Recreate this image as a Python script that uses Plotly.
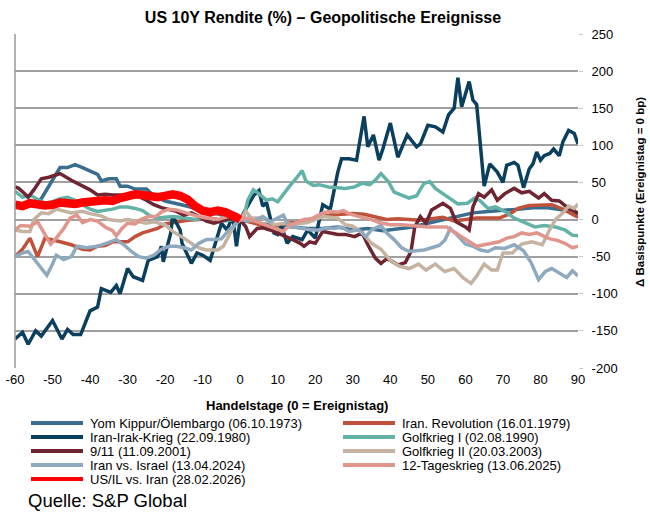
import plotly.graph_objects as go

# ---------------- data ----------------
TITLE = "US 10Y Rendite (%) – Geopolitische Ereignisse"
X_TITLE = "Handelstage (0 = Ereignistag)"
Y_TITLE = "Δ Basispunkte (Ereignistag = 0 bp)"
SOURCE = "Quelle: S&P Global"
X_TICKS = [-60, -50, -40, -30, -20, -10, 0, 10, 20, 30, 40, 50, 60, 70, 80, 90]
Y_TICKS = [-200, -150, -100, -50, 0, 50, 100, 150, 200, 250]

names = [
    "Yom Kippur/Ölembargo (06.10.1973)",
    "Iran. Revolution (16.01.1979)",
    "Iran-Irak-Krieg (22.09.1980)",
    "Golfkrieg I (02.08.1990)",
    "9/11 (11.09.2001)",
    "Golfkrieg II (20.03.2003)",
    "Iran vs. Israel (13.04.2024)",
    "12-Tageskrieg (13.06.2025)",
    "US/IL vs. Iran (28.02.2026)",
]
colors = ["#3a6e8f", "#c0513a", "#0b3f5e", "#62b2a8", "#6e2531",
          "#c5b3a1", "#8faabf", "#e0968c", "#ff0000"]

yk_days = [-60, -56, -53, -51, -48, -46, -44, -42, -40, -38, -37, -35, -33, -32, -30, -28, -25, -23, -20, -17, -14, -10, -6, -3, 0,
           3, 6, 10, 14, 18, 22, 26, 30, 34, 38, 40, 42, 46, 50, 54, 58, 62, 66, 70, 74, 78, 82, 86, 90]
yk_vals = [20, 22, 28, 45, 70, 70, 74, 70, 66, 61, 52, 55, 55, 45, 45, 41, 41, 32, 25, 22, 18, 12, 8, 4, 0,
           -3, -6, -8, -10, -12, -12, -10, -14, -12, -15, -14, -13, -10, -5, 0, 5, 9, 11, 12, 14, 16, 16, 13, 8]

ir_days = [-60, -58, -56, -54, -52, -50, -48, -45, -42, -40, -38, -36, -34, -30, -28, -26, -24, -22, -20, -17, -14, -11, -8, -5, -2, 0,
           3, 6, 9, 12, 15, 18, 21, 24, 27, 30, 33, 36, 39, 42, 45, 48, 51, 54, 57, 60, 63, 66, 69, 72, 74, 77, 80, 83, 86, 88, 90]
ir_vals = [-50, -40, -25, -50, -25, -28, -30, -34, -40, -41, -36, -35, -30, -30, -23, -18, -15, -12, -6, -3, -1, 0, 2, -1, 1, 0,
           -4, -8, -10, -5, -4, 0, 3, 6, 7, 8, 7, 3, 0, 1, 0, -1, 1, 3, -2, 0, 2, 2, 2, 8, 15, 19, 20, 20, 14, 8, 3]

ii_days = [-60, -58, -56.5, -54.5, -53, -50, -47.5, -46, -44.5, -42.5, -40, -38, -37, -34.5, -33, -32, -30, -28.5, -26, -24.5,
           -22, -21, -20.5, -18.5, -18, -16, -15.5, -13, -11.5, -10, -8, -6, -5, -3.5, -2, -1, 0,
           1.5, 3.5, 5, 6, 7, 9, 10, 11, 12.5, 14, 16.5, 18, 20, 22, 24, 26, 27, 29, 31, 33, 34, 35.5, 37, 38, 40, 42,
           44.5, 47, 48, 50, 52, 54, 55.5, 57, 58, 59, 61, 62, 63, 65, 66.5, 68.5, 70, 71, 73, 74, 75.5, 77, 78, 79, 80,
           81, 82.5, 83.5, 85, 86, 87.5, 89, 90]
ii_vals = [-161, -152, -168, -150, -157, -136, -161, -148, -155, -155, -123, -118, -93, -98, -89, -100, -66, -77, -82, -55,
           -50, -36, -57, -18, 5, -14, -32, -59, -45, -48, -55, -23, -5, -14, 5, -36, 0,
           14, 32, 39, 18, 23, -18, -20, -9, -32, -23, -27, -14, -25, 20, 14, 64, 82, 82, 80, 139, 98, 114, 80, 95, 130, 84,
           114, 98, 102, 127, 125, 118, 141, 150, 191, 152, 186, 161, 155, 45, 75, 64, 50, 73, 77, 73, 43, 68, 75, 91, 80,
           86, 89, 95, 86, 105, 120, 116, 102]

g1_days = [-60, -58, -56, -54, -52, -50, -48, -46, -44, -42, -40, -38, -36, -34, -32, -30, -28, -26, -24, -22, -20, -18, -16, -14, -12,
           -10, -8, -6, -4, -2, 0, 1, 2, 3.5, 5, 7, 8.5, 10, 11.5, 13, 15, 16.5, 17.5, 19.5, 21, 23.5, 26, 28, 30.5, 32.5, 34.5,
           36, 37.5, 39.5, 41, 43, 45, 47, 49, 50.5, 52, 54, 56, 58, 60.5, 62.5, 64, 66, 68, 70.5, 73, 76, 78.5, 81, 84, 86.5,
           88.5, 90]
g1_vals = [38, 30, 33, 28, 22, 24, 28, 30, 26, 20, 14, 11, 12, 14, 17, 17, 15, 12, 5, 2, 3, 4, 3, 2, 0,
           2, 1, 0, -2, 0, 0, 4, 26, 40, 35, 26, 28, 24, 35, 44, 56, 66, 52, 46, 47, 44, 43, 42, 44, 49, 47,
           53, 62, 51, 37, 33, 29, 32, 49, 51, 42, 35, 28, 21, 22, 29, 25, 15, 17, 11, 2, -5, -10, -8, -10, -14,
           -21, -22]

s11_days = [-60, -59, -57.5, -56.5, -55, -53, -51, -48, -45, -42.5, -40, -38, -36, -34, -32, -30, -27, -25, -23, -21, -19, -17,
            -15, -13, -11, -9, -7, -5, -3, -1, 0, 1.5, 2.5, 4.5, 6, 8, 10, 12, 14, 16, 17, 18.5, 20, 22, 24, 26, 28, 30.5,
            32.5, 34, 36, 37.5, 39, 40, 42, 44, 45.5, 46.5, 48, 49.5, 51, 54, 56, 57.5, 60, 61, 62, 63.5, 65, 67, 68.5,
            70.5, 73, 75, 77, 79.5, 81, 83, 85, 87.5, 89, 90]
s11_vals = [44, 42, 35, 30, 40, 55, 57, 62, 53, 46, 40, 33, 34, 33, 33, 31, 31, 26, 20, 16, 13, 11,
            6, 9, 4, -2, -5, -2, 1, 0, 0, -10, -23, -12, -11, -14, -18, -23, -27, -32, -36, -30, -32, -16, -18, -20, -20, -23,
            -18, -34, -52, -59, -53, -55, -61, -58, -43, -10, 4, -5, 13, 22, 15, -3, -10, -14, 17, 35, 30, 40, 26,
            35, 42, 36, 38, 29, 35, 26, 25, 15, 12, 8]

g2_days = [-60, -58, -56, -55, -53, -51, -49, -47, -45, -42, -40, -37, -35, -32, -30, -28, -25, -23, -20, -18, -15, -12.5, -10.5,
           -9, -6, -4.5, -2.7, -1.5, 0, 1.5, 3, 6, 9, 12, 14, 16, 18, 20, 22, 24, 26, 28, 30, 32.5, 35, 37.5, 40, 42.5, 45,
           47.5, 49.5, 52, 54.5, 57, 59.5, 61.5, 63, 65, 67, 68.5, 70, 72.5, 75, 77.7, 80.5, 82.3, 84, 86, 87.5, 89, 90]
g2_vals = [-14, -16, -16, 0, 9, 8, 14, 11, 9, 11, 8, 5, 0, -2, 0, -2, -5, -3, -7, -16, -25, -34, -39,
           -41, -41, -36, -20, -7, 0, 11, 2, 2, -7, -5, -7, -6, -4, 0, 4, 3, 2, -7, -9, -18, -32, -40, -55, -63, -66,
           -60, -68, -60, -70, -66, -79, -86, -76, -60, -68, -68, -45, -45, -33, -30, -34, -15, 0, 9, 18, 15, 21]

ivi_days = [-60, -58, -56.5, -54, -52.5, -51.5, -50, -49, -47, -45, -43.5, -41, -38, -36, -33, -31, -29, -27, -25, -23, -21, -19,
            -17, -15, -13, -11, -9, -7, -5, -3, -1.5, 0, 2, 4, 6, 8, 10, 11.5, 13, 15, 17, 19, 21, 23, 25, 27, 29, 31.5, 33.5,
            35, 37.5, 39, 41, 43, 45, 47, 49, 51, 53, 54.5, 56, 58, 60, 62, 64, 66, 68, 70.5, 73, 75.5, 77.5, 79.5, 81.3, 83,
            85, 87, 88.5, 90]
ivi_vals = [-50, -45, -43, -59, -68, -75, -60, -48, -54, -50, -36, -38, -36, -32, -27, -34, -43, -50, -52, -48, -40, -36,
            -36, -38, -41, -32, -27, -27, -26, -14, -8, 0, -2, -1, 4, -3, 2, 6, -9, -11, -12, -14, -14, -11, -12, -10, -16, -14, -23,
            -14, -8, -18, -27, -38, -43, -42, -41, -38, -35, -28, -12, -22, -33, -36, -41, -43, -38, -39, -34, -42, -58, -81, -70, -66,
            -72, -78, -69, -76]

t12_days = [-60, -58.5, -56, -54, -52.5, -50.5, -49, -47, -45.3, -43.5, -42, -40, -38, -36, -34, -33, -31.5, -30, -28, -26.5,
            -24.5, -22.5, -21, -19, -17, -15, -13, -11, -9, -6, -4, -2, 0, 2, 4, 6, 8, 10, 11.5, 13, 15, 17, 19, 21, 22, 24,
            26, 27.5, 29, 31, 33, 35, 37, 40, 43, 45, 47, 50, 52.5, 55, 56, 57.5, 59.5, 61.3, 63, 65, 67, 69, 71, 73, 75, 77,
            79, 80.5, 82.5, 84.5, 86.5, 88.5, 90]
t12_vals = [-14, -8, -9, -3, -16, -33, -25, -12, 2, 6, -4, 0, -2, -10, -15, -22, -12, -5, -6, 0,
            4, 4, 10, 14, 13, 10, 6, 4, 2, 0, 3, 5, 0, 2, -2, -6, -10, -14, -16, -8, -4, 0, 1, 6, 9, 11,
            10, 12, 8, 5, 3, 0, -4, -7, -7, -8, -8, -10, -10, -10, -14, -18, -25, -30, -36, -34, -32, -30, -25, -23, -18, -20,
            -18, -22, -26, -28, -32, -38, -36]

us_days = [-60, -58, -56, -54, -52, -50, -48, -46, -44, -42, -40, -38, -36, -34, -32, -30, -28, -26, -24, -22, -20, -18, -16,
           -14, -12, -10, -8, -6, -4, -2, -1, 0]
us_vals = [20, 18, 22, 20, 19, 20, 23, 22, 21, 23, 25, 25, 26, 25, 29, 31, 34, 33, 31, 30, 32, 34, 32,
           27, 18, 12, 10, 12, 10, 7, 3, 0]

series_days = [yk_days, ir_days, ii_days, g1_days, s11_days, g2_days, ivi_days, t12_days, us_days]
series_vals = [yk_vals, ir_vals, ii_vals, g1_vals, s11_vals, g2_vals, ivi_vals, t12_vals, us_vals]
widths = [3.5, 3.5, 3.5, 3.5, 3.5, 3.5, 3.5, 3.5, 8.5]

# ---------------- layout geometry (pixels) ----------------
W_PX, H_PX = 650, 513
L, R, T, B = 15, 578, 34, 368
FONT = "Liberation Sans, Arial, sans-serif"


def px(x):
    return (x - L) / (R - L)


def py(y):
    return (B - y) / (B - T)


fig = go.Figure()
for d, v, n, c, w in zip(series_days, series_vals, names, colors, widths):
    fig.add_trace(go.Scatter(x=d, y=v, mode="lines", name=n,
                             line=dict(color=c, width=w), showlegend=False,
                             hoverinfo="skip"))

shapes = [dict(type="line", xref="paper", yref="paper", x0=0, x1=0, y0=0, y1=1,
               line=dict(color="#9a9a9a", width=1.5))]
annotations = [
    dict(text=f"<b>{X_TITLE}</b>", xref="paper", yref="paper", x=px(297), y=py(406),
         showarrow=False, xanchor="center", yanchor="middle", font=dict(size=13, color="#000")),
    dict(text=f"<b>{Y_TITLE}</b>", xref="paper", yref="paper", x=px(640), y=py(192),
         showarrow=False, xanchor="center", yanchor="middle", textangle=-90,
         font=dict(size=11.5, color="#000")),
    dict(text=SOURCE, xref="paper", yref="paper", x=px(26), y=py(500),
         showarrow=False, xanchor="left", yanchor="middle", font=dict(size=18.5, color="#000")),
]

# manual legend (two columns)
for i, (n, c) in enumerate(zip(names, colors)):
    col, row = i % 2, i // 2
    yy = 423 + row * 14
    x0 = 31 + col * 312
    shapes.append(dict(type="line", xref="paper", yref="paper", x0=px(x0), x1=px(x0 + 52),
                       y0=py(yy), y1=py(yy), line=dict(color=c, width=4)))
    annotations.append(dict(text=n, xref="paper", yref="paper", x=px(x0 + 57), y=py(yy),
                            showarrow=False, xanchor="left", yanchor="middle",
                            font=dict(size=13, color="#000")))

fig.update_layout(
    width=W_PX, height=H_PX,
    margin=dict(l=L, r=W_PX - R, t=T, b=H_PX - B, pad=0, autoexpand=False),
    paper_bgcolor="white", plot_bgcolor="white",
    font=dict(family=FONT, color="#000"),
    title=dict(text=f"<b>{TITLE}</b>", x=323 / W_PX, xanchor="center", y=1 - 17 / H_PX,
               yanchor="middle", font=dict(size=16, color="#000")),
    shapes=shapes, annotations=annotations, showlegend=False,
    xaxis=dict(range=[-60, 90], tickvals=X_TICKS, ticktext=[str(t) for t in X_TICKS],
               showgrid=False, zeroline=False, automargin=False,
               showline=False, ticks="", tickfont=dict(size=13), ticklabelstandoff=2),
    yaxis=dict(range=[-200, 250], tickvals=Y_TICKS, ticktext=[str(t) for t in Y_TICKS],
               side="right", showgrid=True, automargin=False,
               gridcolor="#a0a0a0", gridwidth=1.5, zeroline=False, showline=False,
               ticks="outside", ticklen=4, tickcolor="#c8c8c8",
               tickfont=dict(size=13), ticklabelstandoff=6),
)

fig.write_html("out.html", config={"displayModeBar": False},
               post_script="document.body.style.margin='0';document.body.style.overflow='hidden';")
